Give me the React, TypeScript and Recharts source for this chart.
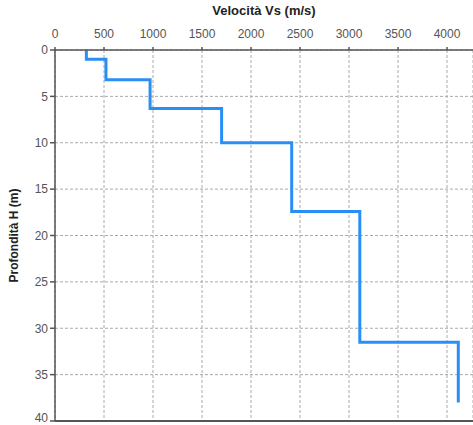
import { CartesianGrid, Label, Line, LineChart, ReferenceLine, XAxis, YAxis } from "recharts"

// Vs of each layer (m/s) and depth of the layer boundaries (m)
const velocities = [320, 520, 970, 1700, 2415, 3110, 4115]
const depths = [0, 1, 3.2, 6.3, 10, 17.4, 31.5, 38]

const xTicks = [0, 500, 1000, 1500, 2000, 2500, 3000, 3500, 4000]
const yTicks = [0, 5, 10, 15, 20, 25, 30, 35, 40]

// staircase: each layer is a vertical segment from its top to its bottom
const profile = velocities.flatMap((vs, i) => [
  { vs, h: depths[i] },
  { vs, h: depths[i + 1] },
])

const tickStyle = { fontSize: 12, fill: "#555", fontFamily: "Liberation Sans, Arial, sans-serif" }

export default function App() {
  return (
    <div style={{ position: "absolute", left: 0, top: 0, background: "#fff" }}>
      <LineChart
        width={473}
        height={425}
        data={profile}
        margin={{ top: 0, right: 0, left: 0, bottom: 4 }}
      >
        <CartesianGrid stroke="#aaa" strokeDasharray="3 2" />
        <XAxis
          dataKey="vs"
          type="number"
          orientation="top"
          domain={[0, 4265]}
          ticks={xTicks}
          height={50}
          tick={tickStyle}
          tickSize={3}
          tickMargin={9}
          stroke="#555"
          strokeWidth={1.5}
          allowDataOverflow
        >
          <Label
            value="Velocità Vs (m/s)"
            position="insideTop"
            offset={6}
            style={{ fontSize: 13, fontWeight: "bold", fill: "#222", fontFamily: "Liberation Sans, Arial, sans-serif" }}
          />
        </XAxis>
        <YAxis
          dataKey="h"
          type="number"
          reversed
          domain={[0, 40]}
          ticks={yTicks}
          width={55}
          tick={tickStyle}
          tickSize={5}
          tickMargin={2}
          stroke="#555"
          strokeWidth={1.5}
        >
          <Label
            value="Profondità H (m)"
            angle={-90}
            position="insideLeft"
            offset={14}
            style={{ textAnchor: "middle", fontSize: 12, fontWeight: "bold", fill: "#222", fontFamily: "Liberation Sans, Arial, sans-serif" }}
          />
        </YAxis>
        <ReferenceLine y={40} stroke="#555" strokeWidth={2} />
        <Line
          type="linear"
          dataKey="h"
          stroke="#2a8ff5"
          strokeWidth={3}
          dot={false}
          isAnimationActive={false}
        />
      </LineChart>
    </div>
  )
}
